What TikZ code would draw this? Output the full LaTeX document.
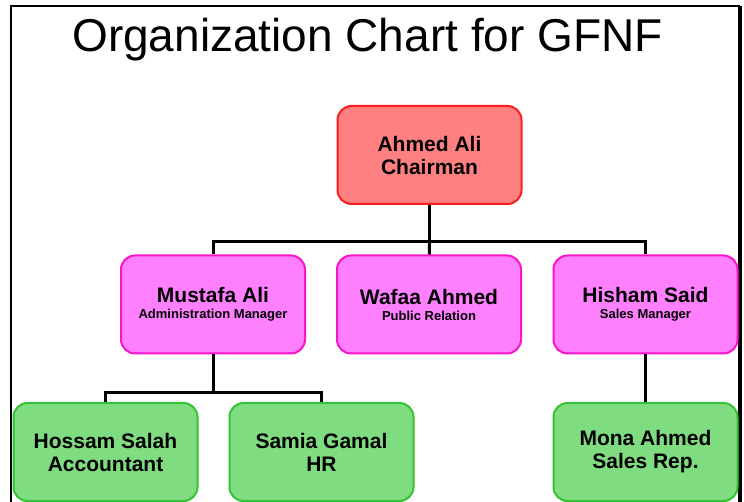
\documentclass[tikz,border=0pt]{standalone}
\usepackage{fontspec}
\setmainfont{Liberation Sans}
\usetikzlibrary{positioning}
\definecolor{chairfill}{RGB}{255,128,128}
\definecolor{chairline}{RGB}{250,30,30}
\definecolor{headfill}{RGB}{255,128,255}
\definecolor{headline}{RGB}{250,20,200}
\definecolor{stafffill}{RGB}{128,220,128}
\definecolor{staffline}{RGB}{50,195,50}
\tikzset{
	box/.style={draw, line width=2pt, rounded corners=14pt, minimum width=184pt,
		minimum height=98pt, align=center, font=\bfseries\fontsize{21}{23}\selectfont},
	chairbox/.style={box, draw=chairline, fill=chairfill},
	headbox/.style={box, draw=headline, fill=headfill},
	staffbox/.style={box, draw=staffline, fill=stafffill},
	link/.style={line width=3pt},
}
\newcommand{\jobline}[1]{{\fontsize{13}{15}\selectfont #1}}
\begin{document}
\begin{tikzpicture}[x=1pt, y=1pt]
			\useasboundingbox (0,0) rectangle (744,-502);
			\draw [line width=2pt] (11,-502) -- (11,-6) -- (740,-6);
			\draw [line width=3.5pt] (740,-6) -- (740,-502);
			\node (title) at (367.5,-40) {\fontsize{46}{52}\selectfont Organization Chart for GFNF};
			
			\node [chairbox] (chair) at (429.5,-155) {Ahmed Ali\\Chairman};
			
			\node [headbox] (mustafa) at (213,-304.5) {Mustafa Ali\\[-7pt]\jobline{Administration Manager}};
			\node [headbox] (wafaa) at (429,-304.5) {Wafaa Ahmed\\[-7pt]\jobline{Public Relation}};
			\node [headbox] (hisham) at (645.5,-304.5) {Hisham Said\\[-7pt]\jobline{Sales Manager}};
			
			\node [staffbox] (hossam) at (105.5,-452) {Hossam Salah\\Accountant};
			\node [staffbox] (samia) at (321.5,-452) {Samia Gamal\\HR};
			\node [staffbox] (mona) at (645.5,-452) {Mona Ahmed\\Sales Rep.};
			
			\coordinate (topbus) at (429.5,-242);
			\coordinate (adminbus) at (213,-392);
			\draw [link] (chair) -- (topbus);
			\draw [link] (topbus) -| (mustafa);
			\draw [link] (topbus) -| (hisham);
			\draw [link] (topbus) -- (wafaa);
			\draw [link] (mustafa) -- (adminbus);
			\draw [link] (adminbus) -| (hossam);
			\draw [link] (adminbus) -| (samia);
			\draw [link] (hisham) -- (mona);
		\end{tikzpicture}
\end{document}
